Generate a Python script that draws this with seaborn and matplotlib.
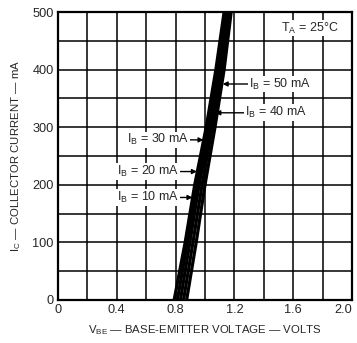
import matplotlib
matplotlib.use("Agg")
import matplotlib.pyplot as plt
import seaborn as sns
import pandas as pd
from matplotlib import font_manager

# ---- data ----
ic_ma = [0, 100, 200, 300, 400, 500]
vbe_10 = [0.790, 0.865, 0.930, 1.008, 1.074, 1.130]
vbe_20 = [0.812, 0.880, 0.945, 1.020, 1.085, 1.140]
vbe_30 = [0.833, 0.897, 0.960, 1.035, 1.100, 1.155]
vbe_40 = [0.854, 0.918, 0.980, 1.050, 1.115, 1.166]
vbe_50 = [0.875, 0.940, 1.000, 1.068, 1.130, 1.178]
ib_labels = ["10 mA", "20 mA", "30 mA", "40 mA", "50 mA"]
x_ticks = [0, 0.2, 0.4, 0.6, 0.8, 1.0, 1.2, 1.4, 1.6, 1.8, 2.0]
x_ticklabels = ["0", "", "0.4", "", "0.8", "", "1.2", "", "1.6", "", "2.0"]
y_ticks = [0, 50, 100, 150, 200, 250, 300, 350, 400, 450, 500]
y_ticklabels = ["0", "", "100", "", "200", "", "300", "", "400", "", "500"]

series = [vbe_10, vbe_20, vbe_30, vbe_40, vbe_50]
rows = []
for lab, vals in zip(ib_labels, series):
    for v, i in zip(vals, ic_ma):
        rows.append({"IB": lab, "VBE": v, "IC": i})
df = pd.DataFrame(rows)

sns.set_style("white")
fam = "Liberation Sans"
fs = 8.2
plt.rcParams["font.family"] = [fam, "DejaVu Sans"]
plt.rcParams["mathtext.fontset"] = "custom"
plt.rcParams["mathtext.rm"] = fam
plt.rcParams["mathtext.it"] = fam

fig = plt.figure(figsize=(3.57, 3.43), dpi=100)
ax = fig.add_axes([0.1625, 0.1254, 0.8235, 0.8396])

sns.lineplot(data=df, x="VBE", y="IC", hue="IB", palette=["black"] * 5,
             estimator=None, sort=False, linewidth=2.3, legend=False, ax=ax,
             solid_capstyle="butt")

ax.set_xlim(0, 2.0)
ax.set_ylim(0, 500)
ax.set_xticks(x_ticks)
ax.set_xticklabels(x_ticklabels, fontsize=fs + 1)
ax.set_yticks(y_ticks)
ax.set_yticklabels(y_ticklabels, fontsize=fs + 1)
ax.tick_params(length=0, pad=3)
ax.grid(True, color="black", linewidth=1.1)
for s in ax.spines.values():
    s.set_color("black")
    s.set_linewidth(1.6)
lbls = ax.get_xticklabels()
lbls[-1].set_horizontalalignment("right")

ax.set_xlabel(r"$\mathregular{V_{BE}}$ — BASE-EMITTER VOLTAGE — VOLTS", fontsize=fs, labelpad=5)
ax.set_ylabel(r"$\mathregular{I_C}$ — COLLECTOR CURRENT — mA", fontsize=fs, labelpad=7)

bbox = dict(facecolor="white", edgecolor="none", pad=0.5)
ann = [
    ("10 mA", (0.915, 178), (0.40, 178)),
    ("20 mA", (0.945, 223), (0.40, 223)),
    ("30 mA", (0.99, 278), (0.47, 278)),
    ("40 mA", (1.07, 325), (1.27, 325)),
    ("50 mA", (1.12, 375), (1.30, 375)),
]
for lab, xy, xytext in ann:
    ax.annotate(r"$\mathregular{I_B}$ = " + lab, xy=xy, xytext=xytext,
                ha="left", va="center", fontsize=fs + 0.8,
                bbox=bbox,
                arrowprops=dict(arrowstyle="-|>", color="black", lw=1.0,
                                mutation_scale=7, shrinkA=0, shrinkB=0))

ax.text(1.91, 472, r"$\mathregular{T_A}$ = 25°C", ha="right", va="center",
        fontsize=fs + 0.8, bbox=bbox)

fig.savefig("out.png", dpi=100)
